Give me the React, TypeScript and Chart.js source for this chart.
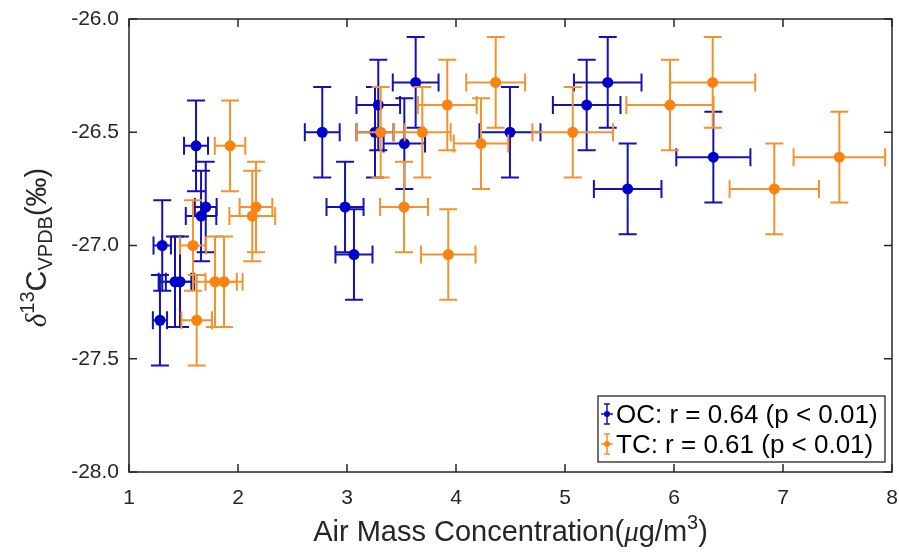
import React, { useEffect, useRef } from "react";
import { Chart, registerables } from "chart.js";

Chart.register(...registerables);

// ---- data ----
const ocX = [1.615, 1.704, 1.661, 1.305, 1.422, 1.468, 1.284, 2.773, 3.287, 3.257, 3.526, 3.63, 4.495, 2.982, 3.064, 5.199, 5.392, 5.575, 6.361];
const ocY = [-26.56, -26.83, -26.87, -27.0, -27.16, -27.16, -27.33, -26.5, -26.38, -26.5, -26.55, -26.28, -26.5, -26.83, -27.04, -26.38, -26.28, -26.75, -26.61];
const ocXErr = [0.11, 0.1, 0.14, 0.08, 0.15, 0.13, 0.065, 0.16, 0.2, 0.17, 0.19, 0.21, 0.28, 0.17, 0.17, 0.31, 0.31, 0.31, 0.34];
const ocYErr = [0.2, 0.2, 0.2, 0.2, 0.2, 0.2, 0.2, 0.2, 0.2, 0.2, 0.2, 0.2, 0.2, 0.2, 0.2, 0.2, 0.2, 0.2, 0.2];

const tcX = [1.927, 2.165, 2.131, 1.587, 1.789, 1.872, 1.621, 3.309, 3.691, 3.92, 4.364, 4.229, 3.523, 3.929, 5.071, 5.963, 6.355, 6.92, 7.517];
const tcY = [-26.56, -26.83, -26.87, -27.0, -27.16, -27.16, -27.33, -26.5, -26.5, -26.38, -26.28, -26.55, -26.83, -27.04, -26.5, -26.38, -26.28, -26.75, -26.61];
const tcXErr = [0.14, 0.15, 0.21, 0.12, 0.2, 0.17, 0.14, 0.22, 0.26, 0.27, 0.27, 0.25, 0.22, 0.25, 0.37, 0.4, 0.39, 0.41, 0.42];
const tcYErr = [0.2, 0.2, 0.2, 0.2, 0.2, 0.2, 0.2, 0.2, 0.2, 0.2, 0.2, 0.2, 0.2, 0.2, 0.2, 0.2, 0.2, 0.2, 0.2];

const xTicks = [1, 2, 3, 4, 5, 6, 7, 8];
const yTicks = [-28, -27.5, -27, -26.5, -26];
const legendLabels = ["OC: r = 0.64 (p < 0.01)", "TC: r = 0.61 (p < 0.01)"];

const FONT = '"Liberation Sans", Arial, Helvetica, sans-serif';
const SERIF = '"Liberation Serif", "DejaVu Serif", serif';
const AXIS_COLOR = "#262626";
const OC_MARK = "#0000cd";
const OC_LINE = "#1212b8";
const TC_MARK = "#fa820f";
const TC_LINE = "#f2932e";

type Run = { t: string; font: string; dy?: number };

function drawRuns(ctx: CanvasRenderingContext2D, runs: Run[], cx: number, baseY: number) {
  let total = 0;
  const widths = runs.map((r) => {
    ctx.font = r.font;
    const w = ctx.measureText(r.t).width;
    total += w;
    return w;
  });
  let x = cx - total / 2;
  runs.forEach((r, i) => {
    ctx.font = r.font;
    ctx.fillText(r.t, x, baseY + (r.dy || 0));
    x += widths[i];
  });
}

const errorBarPlugin = {
  id: "errorBars",
  beforeDatasetDraw(chart: any, args: any) {
    const ds = chart.data.datasets[args.index];
    const xs = chart.scales.x;
    const ys = chart.scales.y;
    const ctx = chart.ctx as CanvasRenderingContext2D;
    const cap = 9;
    ctx.save();
    ctx.strokeStyle = ds.errColor;
    ctx.lineWidth = 2;
    ds.data.forEach((p: any, i: number) => {
      const px = xs.getPixelForValue(p.x);
      const py = ys.getPixelForValue(p.y);
      const xl = xs.getPixelForValue(p.x - ds.xErr[i]);
      const xr = xs.getPixelForValue(p.x + ds.xErr[i]);
      const yt = ys.getPixelForValue(p.y + ds.yErr[i]);
      const yb = ys.getPixelForValue(p.y - ds.yErr[i]);
      ctx.beginPath();
      ctx.moveTo(px, yt);
      ctx.lineTo(px, yb);
      ctx.moveTo(px - cap, yt);
      ctx.lineTo(px + cap, yt);
      ctx.moveTo(px - cap, yb);
      ctx.lineTo(px + cap, yb);
      ctx.moveTo(xl, py);
      ctx.lineTo(xr, py);
      ctx.moveTo(xl, py - cap);
      ctx.lineTo(xl, py + cap);
      ctx.moveTo(xr, py - cap);
      ctx.lineTo(xr, py + cap);
      ctx.stroke();
    });
    ctx.restore();
  },
};

const framePlugin = {
  id: "frameDecor",
  afterDraw(chart: any) {
    const ctx = chart.ctx as CanvasRenderingContext2D;
    const { left, right, top, bottom } = chart.chartArea;
    const xs = chart.scales.x;
    const ys = chart.scales.y;
    const tl = 8;
    ctx.save();
    // box
    ctx.strokeStyle = AXIS_COLOR;
    ctx.lineWidth = 1.5;
    ctx.strokeRect(left, top, right - left, bottom - top);
    // inward ticks
    ctx.beginPath();
    xTicks.forEach((v) => {
      const px = xs.getPixelForValue(v);
      ctx.moveTo(px, bottom);
      ctx.lineTo(px, bottom - tl);
      ctx.moveTo(px, top);
      ctx.lineTo(px, top + tl);
    });
    yTicks.forEach((v) => {
      const py = ys.getPixelForValue(v);
      ctx.moveTo(left, py);
      ctx.lineTo(left + tl, py);
      ctx.moveTo(right, py);
      ctx.lineTo(right - tl, py);
    });
    ctx.stroke();

    // legend
    const lx = 598, ly = 396, lw = 287, lh = 66;
    ctx.fillStyle = "#ffffff";
    ctx.fillRect(lx, ly, lw, lh);
    ctx.strokeStyle = AXIS_COLOR;
    ctx.lineWidth = 1.3;
    ctx.strokeRect(lx, ly, lw, lh);
    const entries = [
      { label: legendLabels[0], line: OC_LINE, mark: OC_MARK, base: 423 },
      { label: legendLabels[1], line: TC_LINE, mark: TC_MARK, base: 453 },
    ];
    entries.forEach((e) => {
      const cx = 607;
      const cy = e.base - 9;
      ctx.strokeStyle = e.line;
      ctx.lineWidth = 1.5;
      ctx.beginPath();
      ctx.moveTo(cx, cy - 10);
      ctx.lineTo(cx, cy + 10);
      ctx.moveTo(cx - 3, cy - 10);
      ctx.lineTo(cx + 3, cy - 10);
      ctx.moveTo(cx - 3, cy + 10);
      ctx.lineTo(cx + 3, cy + 10);
      ctx.moveTo(cx - 6, cy);
      ctx.lineTo(cx + 6, cy);
      ctx.stroke();
      ctx.fillStyle = e.mark;
      ctx.beginPath();
      ctx.arc(cx, cy, 3, 0, Math.PI * 2);
      ctx.fill();
      ctx.fillStyle = "#000000";
      ctx.font = `26px ${FONT}`;
      ctx.textAlign = "left";
      ctx.textBaseline = "alphabetic";
      ctx.fillText(e.label, 616, e.base);
    });

    // x axis title
    ctx.fillStyle = AXIS_COLOR;
    ctx.textAlign = "left";
    ctx.textBaseline = "alphabetic";
    const big = `29px ${FONT}`;
    const small = `20px ${FONT}`;
    drawRuns(
      ctx,
      [
        { t: "Air Mass Concentration(", font: big },
        { t: "\u03bc", font: `italic 29px ${SERIF}` },
        { t: "g/m", font: big },
        { t: "3", font: small, dy: -12 },
        { t: ")", font: big },
      ],
      (left + right) / 2,
      541
    );

    // y axis title
    ctx.save();
    ctx.translate(46, (top + bottom) / 2 + 2);
    ctx.rotate(-Math.PI / 2);
    drawRuns(
      ctx,
      [
        { t: "\u03b4", font: `italic 29px ${SERIF}` },
        { t: "13", font: small, dy: -12 },
        { t: "C", font: big },
        { t: "VPDB", font: small, dy: 6 },
        { t: "(\u2030)", font: big },
      ],
      0,
      0
    );
    ctx.restore();
    ctx.restore();
  },
};

export default function App() {
  const ref = useRef<HTMLCanvasElement | null>(null);

  useEffect(() => {
    if (!ref.current) return;
    const mk = (xs: number[], ys: number[]) => xs.map((x, i) => ({ x, y: ys[i] }));
    const chart = new Chart(ref.current, {
      type: "scatter",
      data: {
        datasets: [
          {
            label: "OC",
            data: mk(ocX, ocY),
            xErr: ocXErr,
            yErr: ocYErr,
            errColor: OC_LINE,
            backgroundColor: OC_MARK,
            borderColor: OC_MARK,
            borderWidth: 0,
            pointRadius: 5.5,
            order: 1,
          } as any,
          {
            label: "TC",
            data: mk(tcX, tcY),
            xErr: tcXErr,
            yErr: tcYErr,
            errColor: TC_LINE,
            backgroundColor: TC_MARK,
            borderColor: TC_MARK,
            borderWidth: 0,
            pointRadius: 5.5,
            order: 0,
          } as any,
        ],
      },
      options: {
        responsive: false,
        animation: false,
        devicePixelRatio: 1,
        layout: { padding: { left: 0, right: 7, top: 19, bottom: 0 } },
        plugins: {
          legend: { display: false },
          tooltip: { enabled: false },
        },
        scales: {
          x: {
            type: "linear",
            min: 1,
            max: 8,
            afterBuildTicks: (s: any) => {
              s.ticks = xTicks.map((v) => ({ value: v }));
            },
            afterFit: (s: any) => {
              s.height = 84;
              s.paddingLeft = 0;
              s.paddingRight = 0;
            },
            grid: { display: false, drawTicks: false },
            border: { display: false },
            ticks: {
              padding: 14,
              color: AXIS_COLOR,
              font: { family: FONT, size: 21 },
              maxRotation: 0,
              autoSkip: false,
              callback: (v: any) => String(v),
            },
          },
          y: {
            type: "linear",
            min: -28,
            max: -26,
            afterBuildTicks: (s: any) => {
              s.ticks = yTicks.map((v) => ({ value: v }));
            },
            afterFit: (s: any) => {
              s.width = 129;
              s.paddingTop = 0;
              s.paddingBottom = 0;
            },
            grid: { display: false, drawTicks: false },
            border: { display: false },
            ticks: {
              padding: 10,
              color: AXIS_COLOR,
              font: { family: FONT, size: 21 },
              autoSkip: false,
              callback: (v: any) => Number(v).toFixed(1),
            },
          },
        },
      } as any,
      plugins: [errorBarPlugin, framePlugin],
    });
    return () => chart.destroy();
  }, []);

  return (
    <div style={{ position: "absolute", left: 0, top: 0, width: 899, height: 556, background: "#ffffff" }}>
      <canvas ref={ref} width={899} height={556} style={{ display: "block" }} />
    </div>
  );
}
